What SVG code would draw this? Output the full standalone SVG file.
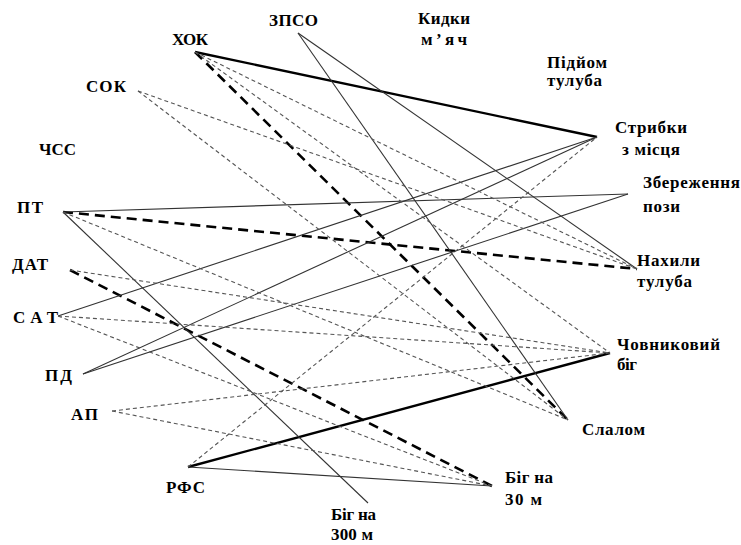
<svg xmlns="http://www.w3.org/2000/svg" width="741" height="545" viewBox="0 0 741 545">
<style>
text{font-family:"Liberation Serif","Times New Roman",serif;font-weight:bold;font-size:17px;fill:#000}
.ts{stroke:#333;stroke-width:1.1;fill:none}
.tk{stroke:#000;stroke-width:2.4;fill:none}
.td{stroke:#555;stroke-width:1.1;stroke-dasharray:4 3;fill:none}
.kd{stroke:#000;stroke-width:2.6;stroke-dasharray:10 6;fill:none}
</style>
<rect width="741" height="545" fill="#fff"/>
<g id="connectors">
<line class="tk" x1="195" y1="52" x2="597" y2="137"/>
<line class="tk" x1="188" y1="467" x2="610" y2="353"/>
<line class="kd" x1="195" y1="52" x2="568" y2="420"/>
<line class="kd" x1="63" y1="212" x2="637" y2="269"/>
<line class="kd" x1="70" y1="270" x2="492" y2="486"/>
<line class="ts" x1="298" y1="33" x2="637" y2="269"/>
<line class="ts" x1="298" y1="33" x2="568" y2="420"/>
<line class="ts" x1="63" y1="212" x2="628" y2="194"/>
<line class="ts" x1="63" y1="212" x2="368" y2="503"/>
<line class="ts" x1="58" y1="316" x2="597" y2="137"/>
<line class="ts" x1="83" y1="374" x2="597" y2="137"/>
<line class="ts" x1="83" y1="374" x2="628" y2="194"/>
<line class="ts" x1="188" y1="467" x2="492" y2="486"/>
<line class="td" x1="195" y1="52" x2="637" y2="269"/>
<line class="td" x1="195" y1="52" x2="610" y2="353"/>
<line class="td" x1="138" y1="91" x2="637" y2="269"/>
<line class="td" x1="138" y1="91" x2="568" y2="420"/>
<line class="td" x1="63" y1="212" x2="568" y2="420"/>
<line class="td" x1="70" y1="270" x2="610" y2="353"/>
<line class="td" x1="58" y1="316" x2="610" y2="353"/>
<line class="td" x1="58" y1="316" x2="492" y2="486"/>
<line class="td" x1="112" y1="411" x2="610" y2="353"/>
<line class="td" x1="112" y1="411" x2="492" y2="486"/>
<line class="td" x1="188" y1="467" x2="597" y2="137"/>
</g>
<g id="n-zpso"><text x="269" y="26" textLength="49" lengthAdjust="spacing">ЗПСО</text></g>
<g id="n-hok"><text x="172" y="45" textLength="36" lengthAdjust="spacing">ХОК</text></g>
<g id="n-sok"><text x="86" y="92" textLength="40" lengthAdjust="spacing">СОК</text></g>
<g id="n-chss"><text x="39" y="155" textLength="37" lengthAdjust="spacing">ЧСС</text></g>
<g id="n-pt"><text x="17" y="213" textLength="26" lengthAdjust="spacing">ПТ</text></g>
<g id="n-dat"><text x="12" y="270" textLength="36" lengthAdjust="spacing">ДАТ</text></g>
<g id="n-sat"><text x="13" y="323" textLength="45" lengthAdjust="spacing">САТ</text></g>
<g id="n-pd"><text x="45" y="381" textLength="27" lengthAdjust="spacing">ПД</text></g>
<g id="n-ap"><text x="71" y="420" textLength="27" lengthAdjust="spacing">АП</text></g>
<g id="n-rfs"><text x="166" y="493" textLength="39" lengthAdjust="spacing">РФС</text></g>
<g id="n-kydky"><text x="418" y="24" textLength="52" lengthAdjust="spacing">Кидки</text><text x="421" y="45" textLength="46" lengthAdjust="spacing">м’яч</text></g>
<g id="n-pidiom"><text x="547" y="68" textLength="60" lengthAdjust="spacing">Підйом</text><text x="547" y="86" textLength="55" lengthAdjust="spacing">тулуба</text></g>
<g id="n-strybky"><text x="615" y="133" textLength="72" lengthAdjust="spacing">Стрибки</text><text x="622" y="155" textLength="58" lengthAdjust="spacing">з місця</text></g>
<g id="n-zberezh"><text x="643" y="188" textLength="97" lengthAdjust="spacing">Збереження</text><text x="643" y="212" textLength="37" lengthAdjust="spacing">пози</text></g>
<g id="n-nakhyly"><text x="637" y="266" textLength="63" lengthAdjust="spacing">Нахили</text><text x="637" y="287" textLength="55" lengthAdjust="spacing">тулуба</text></g>
<g id="n-chovn"><text x="617" y="350" textLength="103" lengthAdjust="spacing">Човниковий</text><text x="617" y="370" textLength="20" lengthAdjust="spacing">біг</text></g>
<g id="n-slalom"><text x="582" y="435" textLength="63" lengthAdjust="spacing">Слалом</text></g>
<g id="n-bih30"><text x="505" y="483" textLength="48" lengthAdjust="spacing">Біг на</text><text x="505" y="505" textLength="37" lengthAdjust="spacing">30 м</text></g>
<g id="n-bih300"><text x="331" y="520" textLength="45" lengthAdjust="spacing">Біг на</text><text x="331" y="540" textLength="42" lengthAdjust="spacing">300 м</text></g>
</svg>
